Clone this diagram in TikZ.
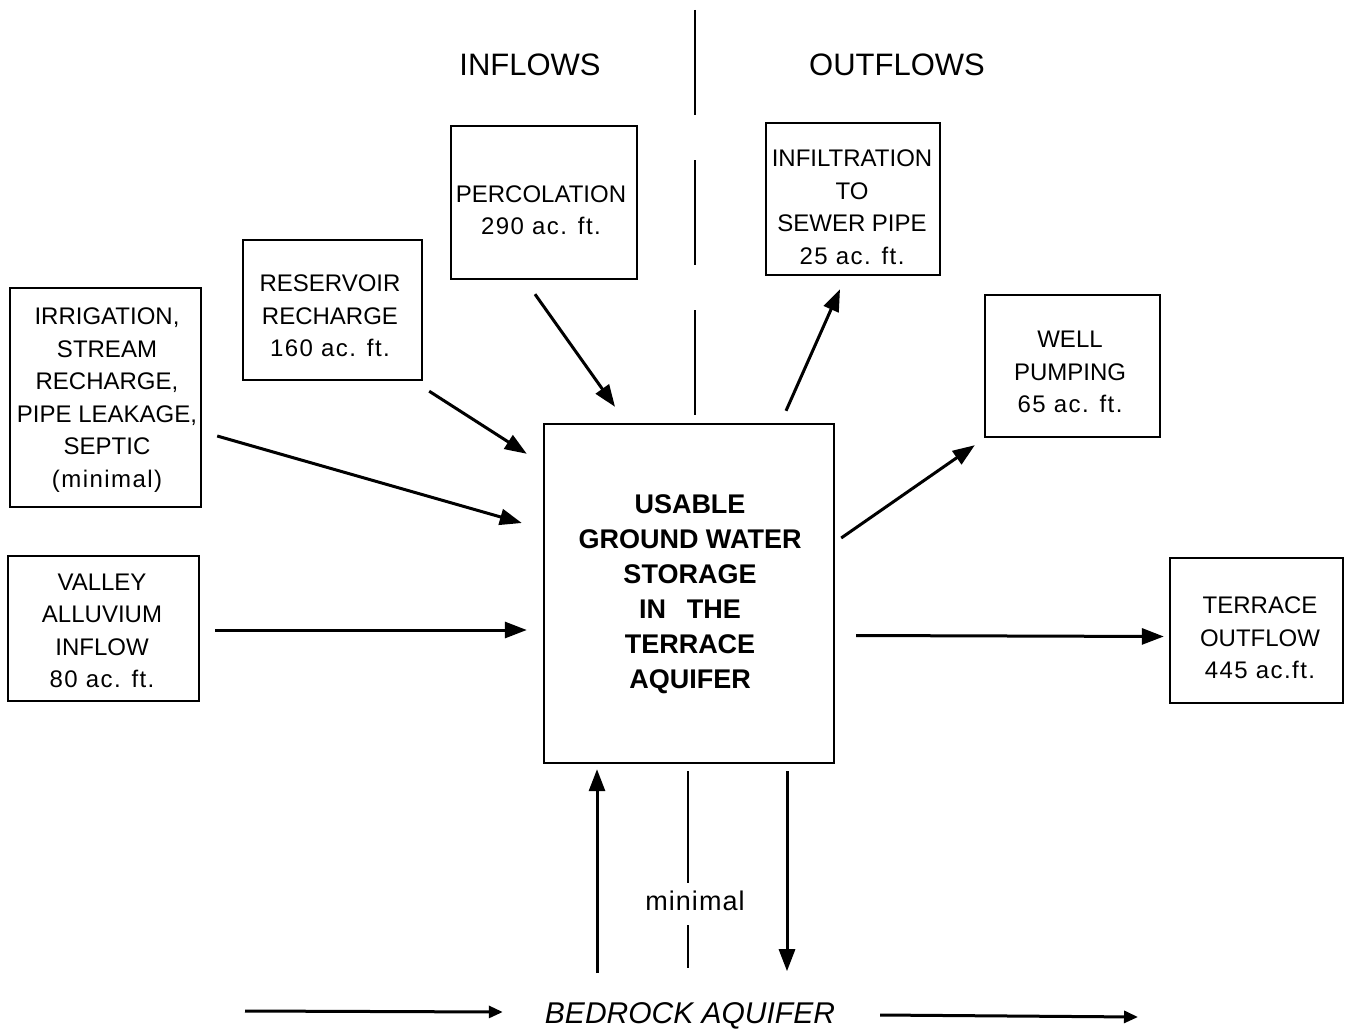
\documentclass[tikz,border=0pt]{standalone}
\usepackage{fontspec}
\setmainfont{Liberation Sans}
\usetikzlibrary{arrows.meta}
\tikzset{
  box/.style={draw, line width=2.4pt, inner sep=0pt},
  txt/.style={align=center, inner sep=0pt, font=\fontsize{24}{32.5}\selectfont},
  arr/.style={line width=3pt, -{Triangle[length=22pt,width=16pt]}},
  sarr/.style={line width=3pt, -{Triangle[length=14pt,width=12pt]}},
  divider/.style={line width=2.6pt},
}
\newcommand{\nsp}{\addfontfeatures{LetterSpace=6}}
\begin{document}
\begin{tikzpicture}[x=1pt,y=-1pt]
\useasboundingbox[fill=white] (0,0) rectangle (1348,1033);

% headers and divider
\node[font=\fontsize{31}{36}\selectfont] (inflows) at (530,65) {INFLOWS};
\node[font=\fontsize{31}{36}\selectfont] (outflows) at (897,65) {OUTFLOWS};
\coordinate (dtop) at (695,10);
\coordinate (dbot) at (695,417);
\draw[divider, dash pattern=on 105pt off 45pt] (dtop) -- (dbot);

% boxes
\node[box, minimum width=186pt, minimum height=153pt] (perc) at (544,202.5) {};
\node[txt] (percT) at (541,210) {PERCOLATION\\{\nsp 290 ac. ft.}};

\node[box, minimum width=174pt, minimum height=152pt] (infil) at (853,199) {};
\node[txt] (infilT) at (852,207) {INFILTRATION\\TO\\SEWER PIPE\\{\nsp 25 ac. ft.}};

\node[box, minimum width=179pt, minimum height=140pt] (res) at (332.5,310) {};
\node[txt] (resT) at (330,316) {RESERVOIR\\RECHARGE\\{\nsp 160 ac. ft.}};

\node[box, minimum width=191pt, minimum height=219pt] (irr) at (105.5,397.5) {};
\node[txt] (irrT) at (107,400) {IRRIGATION,\\STREAM\\RECHARGE,\\PIPE LEAKAGE,\\SEPTIC\\{\nsp (minimal)}};

\node[box, minimum width=191pt, minimum height=145pt] (valley) at (103.5,628.5) {};
\node[txt] (valleyT) at (102,631) {VALLEY\\ALLUVIUM\\INFLOW\\{\nsp 80 ac. ft.}};

\node[box, minimum width=290pt, minimum height=339pt] (main) at (689,593.5) {};
\node[align=center, inner sep=0pt, font=\bfseries\fontsize{27}{35}\selectfont] (mainT) at (690,594) {USABLE\\GROUND WATER\\STORAGE\\IN\hspace{0.5em} THE\\TERRACE\\AQUIFER};

\node[box, minimum width=175pt, minimum height=142pt] (well) at (1072.5,366) {};
\node[txt] (wellT) at (1070,372) {WELL\\PUMPING\\{\nsp 65 ac. ft.}};

\node[box, minimum width=173pt, minimum height=145pt] (terr) at (1256.5,630.5) {};
\node[txt] (terrT) at (1260,638) {TERRACE\\OUTFLOW\\{\nsp 445 ac.ft.}};

% inflow arrows
\draw[arr] ([shift={(-9,14)}]perc.south) -- ([shift={(-74,-16)}]main.north);
\draw[arr] ([shift={(6,10)}]res.south east) -- ([shift={(-16,31)}]main.north west);
\draw[arr] ([shift={(15,38.5)}]irr.east) -- ([shift={(-21,-70.5)}]main.west);
\draw[arr] ([shift={(15,1.5)}]valley.east) -- ([shift={(-16,36.5)}]main.west);

% outflow arrows
\draw[arr] ([shift={(97,-12)}]main.north) -- ([shift={(-13,13)}]infil.south);
\draw[arr] ([shift={(6,-55.5)}]main.east) -- ([shift={(-9,7)}]well.south west);
\draw[arr] ([shift={(21,42)}]main.east) -- ([shift={(-5,6)}]terr.west);

% bottom
\node[font=\fontsize{27}{30}\selectfont, inner sep=2pt] (minimal) at (695,901) {\addfontfeatures{LetterSpace=4}minimal};
\coordinate (minbot) at (688,968);
\path (minbot |- main.south) coordinate (mtop);
\draw[divider] ([yshift=-7pt]mtop) -- ([yshift=6pt]minbot |- minimal.north);
\draw[divider] ([yshift=-12pt]minbot |- minimal.south) -- (minbot);

\draw[arr] ([shift={(-92,209)}]main.south) -- ([shift={(-92,5)}]main.south);
\draw[arr] ([shift={(98,7)}]main.south) -- ([shift={(98,207)}]main.south);

\node[font=\itshape\fontsize{30}{34}\selectfont, inner sep=0pt] (bed) at (690,1016) {BEDROCK AQUIFER};
\coordinate (bedL) at (245,1011);
\coordinate (bedR) at (1138,1017);
\draw[sarr] (bedL) -- ([shift={(-42,-4)}]bed.west);
\draw[sarr] ([shift={(45,-1)}]bed.east) -- (bedR);
\end{tikzpicture}
\end{document}
